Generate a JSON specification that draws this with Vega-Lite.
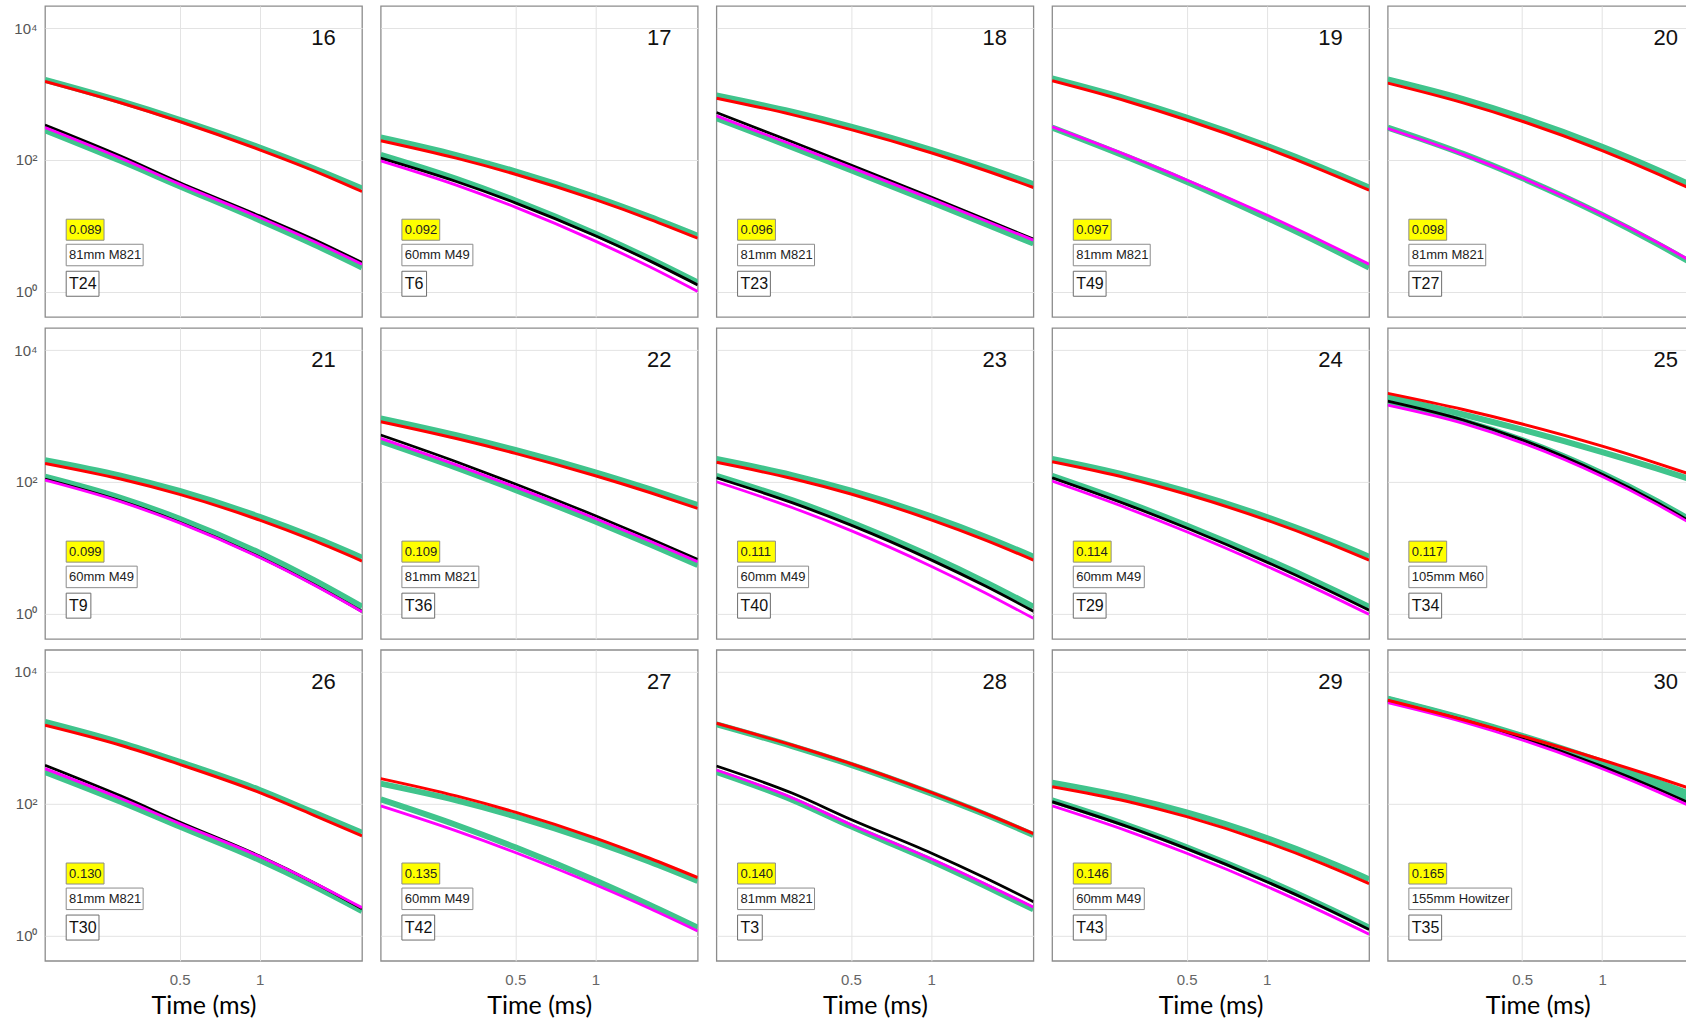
{
  "$schema": "https://vega.github.io/schema/vega-lite/v6.json",
  "background": "white",
  "padding": {"left": 13, "top": 5, "right": 0, "bottom": 0},
  "config": {
    "view": {"stroke": "#8c8c8c", "strokeWidth": 1.3},
    "font": "Liberation Sans",
    "header": {"labels": false, "title": null, "labelExpr": "''", "labelFontSize": 0, "labelPadding": 0, "titlePadding": 0},
    "headerFacet": {"labels": false, "title": null, "labelExpr": "''", "labelFontSize": 0, "labelPadding": 0, "titlePadding": 0}
  },
  "datasets": {
    "panels": [
      {"panel":16,"series":"label","value":"0.089","weapon":"81mm M821","test":"T24"},
      {"panel":17,"series":"label","value":"0.092","weapon":"60mm M49","test":"T6"},
      {"panel":18,"series":"label","value":"0.096","weapon":"81mm M821","test":"T23"},
      {"panel":19,"series":"label","value":"0.097","weapon":"81mm M821","test":"T49"},
      {"panel":20,"series":"label","value":"0.098","weapon":"81mm M821","test":"T27"},
      {"panel":21,"series":"label","value":"0.099","weapon":"60mm M49","test":"T9"},
      {"panel":22,"series":"label","value":"0.109","weapon":"81mm M821","test":"T36"},
      {"panel":23,"series":"label","value":"0.111","weapon":"60mm M49","test":"T40"},
      {"panel":24,"series":"label","value":"0.114","weapon":"60mm M49","test":"T29"},
      {"panel":25,"series":"label","value":"0.117","weapon":"105mm M60","test":"T34"},
      {"panel":26,"series":"label","value":"0.130","weapon":"81mm M821","test":"T30"},
      {"panel":27,"series":"label","value":"0.135","weapon":"60mm M49","test":"T42"},
      {"panel":28,"series":"label","value":"0.140","weapon":"81mm M821","test":"T3"},
      {"panel":29,"series":"label","value":"0.146","weapon":"60mm M49","test":"T43"},
      {"panel":30,"series":"label","value":"0.165","weapon":"155mm Howitzer","test":"T35"},

      {"panel":16,"series":"green_hi","t":0.156,"v":1641},{"panel":16,"series":"green_hi","t":0.3,"v":778},{"panel":16,"series":"green_hi","t":0.5,"v":406},{"panel":16,"series":"green_hi","t":1,"v":154},{"panel":16,"series":"green_hi","t":1.6,"v":73.8},{"panel":16,"series":"green_hi","t":2.424,"v":36.7},
      {"panel":16,"series":"red","t":0.156,"v":1549},{"panel":16,"series":"red","t":0.3,"v":735},{"panel":16,"series":"red","t":0.5,"v":382},{"panel":16,"series":"red","t":1,"v":142},{"panel":16,"series":"red","t":1.6,"v":68.1},{"panel":16,"series":"red","t":2.424,"v":33.0},
      {"panel":16,"series":"black","t":0.156,"v":337},{"panel":16,"series":"black","t":0.3,"v":114},{"panel":16,"series":"black","t":0.5,"v":45.3},{"panel":16,"series":"black","t":1,"v":14.1},{"panel":16,"series":"black","t":1.6,"v":6.17},{"panel":16,"series":"black","t":2.424,"v":2.75},
      {"panel":16,"series":"magenta","t":0.156,"v":309},{"panel":16,"series":"magenta","t":0.3,"v":106},{"panel":16,"series":"magenta","t":0.5,"v":42.7},{"panel":16,"series":"magenta","t":1,"v":13.3},{"panel":16,"series":"magenta","t":1.6,"v":5.75},{"panel":16,"series":"magenta","t":2.424,"v":2.60},
      {"panel":16,"series":"green_lo","t":0.156,"v":282},{"panel":16,"series":"green_lo","t":0.3,"v":96.6},{"panel":16,"series":"green_lo","t":0.5,"v":39.8},{"panel":16,"series":"green_lo","t":1,"v":12.1},{"panel":16,"series":"green_lo","t":1.6,"v":5.18},{"panel":16,"series":"green_lo","t":2.424,"v":2.32},

      {"panel":17,"series":"green_hi","t":0.156,"v":218},{"panel":17,"series":"green_hi","t":0.3,"v":118},{"panel":17,"series":"green_hi","t":0.5,"v":66.8},{"panel":17,"series":"green_hi","t":1,"v":27.2},{"panel":17,"series":"green_hi","t":1.6,"v":13.6},{"panel":17,"series":"green_hi","t":2.424,"v":7.01},
      {"panel":17,"series":"red","t":0.156,"v":195},{"panel":17,"series":"red","t":0.3,"v":106},{"panel":17,"series":"red","t":0.5,"v":60.4},{"panel":17,"series":"red","t":1,"v":24.8},{"panel":17,"series":"red","t":1.6,"v":12.5},{"panel":17,"series":"red","t":2.424,"v":6.46},
      {"panel":17,"series":"black","t":0.156,"v":106},{"panel":17,"series":"black","t":0.3,"v":46.8},{"panel":17,"series":"black","t":0.5,"v":22.2},{"panel":17,"series":"black","t":1,"v":7.01},{"panel":17,"series":"black","t":1.6,"v":2.92},{"panel":17,"series":"black","t":2.424,"v":1.26},
      {"panel":17,"series":"magenta","t":0.156,"v":96.6},{"panel":17,"series":"magenta","t":0.3,"v":41.3},{"panel":17,"series":"magenta","t":0.5,"v":19.1},{"panel":17,"series":"magenta","t":1,"v":5.82},{"panel":17,"series":"magenta","t":1.6,"v":2.37},{"panel":17,"series":"magenta","t":2.424,"v":1.00},
      {"panel":17,"series":"green_lo","t":0.156,"v":119},{"panel":17,"series":"green_lo","t":0.3,"v":51.4},{"panel":17,"series":"green_lo","t":0.5,"v":24.1},{"panel":17,"series":"green_lo","t":1,"v":7.55},{"panel":17,"series":"green_lo","t":1.6,"v":3.15},{"panel":17,"series":"green_lo","t":2.424,"v":1.37},

      {"panel":18,"series":"green_hi","t":0.156,"v":948},{"panel":18,"series":"green_hi","t":0.3,"v":537},{"panel":18,"series":"green_hi","t":0.5,"v":320},{"panel":18,"series":"green_hi","t":1,"v":142},{"panel":18,"series":"green_hi","t":1.6,"v":76.9},{"panel":18,"series":"green_hi","t":2.424,"v":42.7},
      {"panel":18,"series":"red","t":0.156,"v":865},{"panel":18,"series":"red","t":0.3,"v":486},{"panel":18,"series":"red","t":0.5,"v":288},{"panel":18,"series":"red","t":1,"v":128},{"panel":18,"series":"red","t":1.6,"v":68.9},{"panel":18,"series":"red","t":2.424,"v":38.0},
      {"panel":18,"series":"black","t":0.156,"v":524},{"panel":18,"series":"black","t":0.3,"v":188},{"panel":18,"series":"black","t":0.5,"v":83.4},{"panel":18,"series":"black","t":1,"v":27.1},{"panel":18,"series":"black","t":1.6,"v":12.5},{"panel":18,"series":"black","t":2.424,"v":6.24},
      {"panel":18,"series":"magenta","t":0.156,"v":466},{"panel":18,"series":"magenta","t":0.3,"v":171},{"panel":18,"series":"magenta","t":0.5,"v":76.9},{"panel":18,"series":"magenta","t":1,"v":25.5},{"panel":18,"series":"magenta","t":1.6,"v":11.9},{"panel":18,"series":"magenta","t":2.424,"v":6.03},
      {"panel":18,"series":"green_lo","t":0.156,"v":430},{"panel":18,"series":"green_lo","t":0.3,"v":156},{"panel":18,"series":"green_lo","t":0.5,"v":69.8},{"panel":18,"series":"green_lo","t":1,"v":23.0},{"panel":18,"series":"green_lo","t":1.6,"v":10.6},{"panel":18,"series":"green_lo","t":2.424,"v":5.36},

      {"panel":19,"series":"green_hi","t":0.156,"v":1718},{"panel":19,"series":"green_hi","t":0.3,"v":836},{"panel":19,"series":"green_hi","t":0.5,"v":439},{"panel":19,"series":"green_hi","t":1,"v":163},{"panel":19,"series":"green_hi","t":1.6,"v":77.3},{"panel":19,"series":"green_hi","t":2.424,"v":38.0},
      {"panel":19,"series":"red","t":0.156,"v":1585},{"panel":19,"series":"red","t":0.3,"v":769},{"panel":19,"series":"red","t":0.5,"v":402},{"panel":19,"series":"red","t":1,"v":149},{"panel":19,"series":"red","t":1.6,"v":70.5},{"panel":19,"series":"red","t":2.424,"v":34.6},
      {"panel":19,"series":"magenta","t":0.156,"v":317},{"panel":19,"series":"magenta","t":0.3,"v":116},{"panel":19,"series":"magenta","t":0.5,"v":49.5},{"panel":19,"series":"magenta","t":1,"v":14.5},{"panel":19,"series":"magenta","t":1.6,"v":5.92},{"panel":19,"series":"magenta","t":2.424,"v":2.60},
      {"panel":19,"series":"green_lo","t":0.156,"v":310},{"panel":19,"series":"green_lo","t":0.3,"v":110},{"panel":19,"series":"green_lo","t":0.5,"v":46.6},{"panel":19,"series":"green_lo","t":1,"v":13.2},{"panel":19,"series":"green_lo","t":1.6,"v":5.35},{"panel":19,"series":"green_lo","t":2.424,"v":2.32},

      {"panel":20,"series":"green_hi","t":0.156,"v":1660},{"panel":20,"series":"green_hi","t":0.3,"v":836},{"panel":20,"series":"green_hi","t":0.5,"v":439},{"panel":20,"series":"green_hi","t":1,"v":158},{"panel":20,"series":"green_hi","t":1.6,"v":71.4},{"panel":20,"series":"green_hi","t":2.098,"v":43.7},
      {"panel":20,"series":"red","t":0.156,"v":1462},{"panel":20,"series":"red","t":0.3,"v":733},{"panel":20,"series":"red","t":0.5,"v":385},{"panel":20,"series":"red","t":1,"v":138},{"panel":20,"series":"red","t":1.6,"v":62.4},{"panel":20,"series":"red","t":2.098,"v":38.0},
      {"panel":20,"series":"magenta","t":0.156,"v":299},{"panel":20,"series":"magenta","t":0.3,"v":121},{"panel":20,"series":"magenta","t":0.5,"v":53.2},{"panel":20,"series":"magenta","t":1,"v":14.9},{"panel":20,"series":"magenta","t":1.6,"v":5.64},{"panel":20,"series":"magenta","t":2.098,"v":3.09},
      {"panel":20,"series":"green_lo","t":0.156,"v":310},{"panel":20,"series":"green_lo","t":0.3,"v":123},{"panel":20,"series":"green_lo","t":0.5,"v":52.8},{"panel":20,"series":"green_lo","t":1,"v":14.5},{"panel":20,"series":"green_lo","t":1.6,"v":5.38},{"panel":20,"series":"green_lo","t":2.098,"v":2.92},

      {"panel":21,"series":"green_hi","t":0.156,"v":213},{"panel":21,"series":"green_hi","t":0.3,"v":124},{"panel":21,"series":"green_hi","t":0.5,"v":72.3},{"panel":21,"series":"green_hi","t":1,"v":29.3},{"panel":21,"series":"green_hi","t":1.6,"v":14.3},{"panel":21,"series":"green_hi","t":2.424,"v":7.01},
      {"panel":21,"series":"red","t":0.156,"v":190},{"panel":21,"series":"red","t":0.3,"v":110},{"panel":21,"series":"red","t":0.5,"v":64.3},{"panel":21,"series":"red","t":1,"v":26.1},{"panel":21,"series":"red","t":1.6,"v":12.7},{"panel":21,"series":"red","t":2.424,"v":6.24},
      {"panel":21,"series":"black","t":0.156,"v":110},{"panel":21,"series":"black","t":0.3,"v":51.3},{"panel":21,"series":"black","t":0.5,"v":24.3},{"panel":21,"series":"black","t":1,"v":7.19},{"panel":21,"series":"black","t":1.6,"v":2.75},{"panel":21,"series":"black","t":2.424,"v":1.07},
      {"panel":21,"series":"magenta","t":0.156,"v":106},{"panel":21,"series":"magenta","t":0.3,"v":49.8},{"panel":21,"series":"magenta","t":0.5,"v":23.7},{"panel":21,"series":"magenta","t":1,"v":7.06},{"panel":21,"series":"magenta","t":1.6,"v":2.70},{"panel":21,"series":"magenta","t":2.424,"v":1.06},
      {"panel":21,"series":"green_lo","t":0.156,"v":119},{"panel":21,"series":"green_lo","t":0.3,"v":56.8},{"panel":21,"series":"green_lo","t":0.5,"v":27.4},{"panel":21,"series":"green_lo","t":1,"v":8.26},{"panel":21,"series":"green_lo","t":1.6,"v":3.19},{"panel":21,"series":"green_lo","t":2.424,"v":1.26},

      {"panel":22,"series":"green_hi","t":0.156,"v":916},{"panel":22,"series":"green_hi","t":0.3,"v":509},{"panel":22,"series":"green_hi","t":0.5,"v":304},{"panel":22,"series":"green_hi","t":1,"v":139},{"panel":22,"series":"green_hi","t":1.6,"v":77.1},{"panel":22,"series":"green_hi","t":2.424,"v":44.3},
      {"panel":22,"series":"red","t":0.156,"v":815},{"panel":22,"series":"red","t":0.3,"v":453},{"panel":22,"series":"red","t":0.5,"v":270},{"panel":22,"series":"red","t":1,"v":123},{"panel":22,"series":"red","t":1.6,"v":68.5},{"panel":22,"series":"red","t":2.424,"v":39.4},
      {"panel":22,"series":"black","t":0.156,"v":512},{"panel":22,"series":"black","t":0.3,"v":201},{"panel":22,"series":"black","t":0.5,"v":92.5},{"panel":22,"series":"black","t":1,"v":30.4},{"panel":22,"series":"black","t":1.6,"v":13.7},{"panel":22,"series":"black","t":2.424,"v":6.61},
      {"panel":22,"series":"magenta","t":0.156,"v":455},{"panel":22,"series":"magenta","t":0.3,"v":180},{"panel":22,"series":"magenta","t":0.5,"v":83.6},{"panel":22,"series":"magenta","t":1,"v":27.7},{"panel":22,"series":"magenta","t":1.6,"v":12.6},{"panel":22,"series":"magenta","t":2.424,"v":6.10},
      {"panel":22,"series":"green_lo","t":0.156,"v":415},{"panel":22,"series":"green_lo","t":0.3,"v":164},{"panel":22,"series":"green_lo","t":0.5,"v":75.3},{"panel":22,"series":"green_lo","t":1,"v":24.8},{"panel":22,"series":"green_lo","t":1.6,"v":11.2},{"panel":22,"series":"green_lo","t":2.424,"v":5.42},

      {"panel":23,"series":"green_hi","t":0.156,"v":221},{"panel":23,"series":"green_hi","t":0.3,"v":126},{"panel":23,"series":"green_hi","t":0.5,"v":73.1},{"panel":23,"series":"green_hi","t":1,"v":29.7},{"panel":23,"series":"green_hi","t":1.6,"v":14.6},{"panel":23,"series":"green_hi","t":2.424,"v":7.26},
      {"panel":23,"series":"red","t":0.156,"v":197},{"panel":23,"series":"red","t":0.3,"v":112},{"panel":23,"series":"red","t":0.5,"v":65.0},{"panel":23,"series":"red","t":1,"v":26.4},{"panel":23,"series":"red","t":1.6,"v":13.0},{"panel":23,"series":"red","t":2.424,"v":6.46},
      {"panel":23,"series":"black","t":0.156,"v":115},{"panel":23,"series":"black","t":0.3,"v":48.1},{"panel":23,"series":"black","t":0.5,"v":21.9},{"panel":23,"series":"black","t":1,"v":6.50},{"panel":23,"series":"black","t":1.6,"v":2.60},{"panel":23,"series":"black","t":2.424,"v":1.08},
      {"panel":23,"series":"magenta","t":0.156,"v":100},{"panel":23,"series":"magenta","t":0.3,"v":40.6},{"panel":23,"series":"magenta","t":0.5,"v":18.1},{"panel":23,"series":"magenta","t":1,"v":5.22},{"panel":23,"series":"magenta","t":1.6,"v":2.05},{"panel":23,"series":"magenta","t":2.424,"v":0.84},
      {"panel":23,"series":"green_lo","t":0.156,"v":123},{"panel":23,"series":"green_lo","t":0.3,"v":52.5},{"panel":23,"series":"green_lo","t":0.5,"v":24.3},{"panel":23,"series":"green_lo","t":1,"v":7.38},{"panel":23,"series":"green_lo","t":1.6,"v":2.99},{"panel":23,"series":"green_lo","t":2.424,"v":1.26},

      {"panel":24,"series":"green_hi","t":0.156,"v":221},{"panel":24,"series":"green_hi","t":0.3,"v":124},{"panel":24,"series":"green_hi","t":0.5,"v":71.4},{"panel":24,"series":"green_hi","t":1,"v":29.1},{"panel":24,"series":"green_hi","t":1.6,"v":14.4},{"panel":24,"series":"green_hi","t":2.424,"v":7.26},
      {"panel":24,"series":"red","t":0.156,"v":201},{"panel":24,"series":"red","t":0.3,"v":113},{"panel":24,"series":"red","t":0.5,"v":64.4},{"panel":24,"series":"red","t":1,"v":26.1},{"panel":24,"series":"red","t":1.6,"v":12.9},{"panel":24,"series":"red","t":2.424,"v":6.46},
      {"panel":24,"series":"black","t":0.156,"v":115},{"panel":24,"series":"black","t":0.3,"v":44.6},{"panel":24,"series":"black","t":0.5,"v":19.8},{"panel":24,"series":"black","t":1,"v":6.01},{"panel":24,"series":"black","t":1.6,"v":2.52},{"panel":24,"series":"black","t":2.424,"v":1.12},
      {"panel":24,"series":"magenta","t":0.156,"v":102},{"panel":24,"series":"magenta","t":0.3,"v":39.3},{"panel":24,"series":"magenta","t":0.5,"v":17.4},{"panel":24,"series":"magenta","t":1,"v":5.22},{"panel":24,"series":"magenta","t":1.6,"v":2.18},{"panel":24,"series":"magenta","t":2.424,"v":0.966},
      {"panel":24,"series":"green_lo","t":0.156,"v":123},{"panel":24,"series":"green_lo","t":0.3,"v":48.2},{"panel":24,"series":"green_lo","t":0.5,"v":21.6},{"panel":24,"series":"green_lo","t":1,"v":6.65},{"panel":24,"series":"green_lo","t":1.6,"v":2.81},{"panel":24,"series":"green_lo","t":2.424,"v":1.26},

      {"panel":25,"series":"green_hi","t":0.156,"v":1954},{"panel":25,"series":"green_hi","t":0.3,"v":1050},{"panel":25,"series":"green_hi","t":0.5,"v":617},{"panel":25,"series":"green_hi","t":1,"v":282},{"panel":25,"series":"green_hi","t":1.6,"v":159},{"panel":25,"series":"green_hi","t":2.098,"v":112},
      {"panel":25,"series":"red","t":0.156,"v":2198},{"panel":25,"series":"red","t":0.3,"v":1250},{"panel":25,"series":"red","t":0.5,"v":753},{"panel":25,"series":"red","t":1,"v":347},{"panel":25,"series":"red","t":1.6,"v":192},{"panel":25,"series":"red","t":2.098,"v":134},
      {"panel":25,"series":"black","t":0.156,"v":1679},{"panel":25,"series":"black","t":0.3,"v":867},{"panel":25,"series":"black","t":0.5,"v":432},{"panel":25,"series":"black","t":1,"v":130},{"panel":25,"series":"black","t":1.6,"v":49.0},{"panel":25,"series":"black","t":2.098,"v":26.2},
      {"panel":25,"series":"magenta","t":0.156,"v":1462},{"panel":25,"series":"magenta","t":0.3,"v":771},{"panel":25,"series":"magenta","t":0.5,"v":389},{"panel":25,"series":"magenta","t":1,"v":120},{"panel":25,"series":"magenta","t":1.6,"v":45.7},{"panel":25,"series":"magenta","t":2.098,"v":24.7},
      {"panel":25,"series":"green_lo","t":0.156,"v":1585},{"panel":25,"series":"green_lo","t":0.3,"v":843},{"panel":25,"series":"green_lo","t":0.5,"v":430},{"panel":25,"series":"green_lo","t":1,"v":134},{"panel":25,"series":"green_lo","t":1.6,"v":51.3},{"panel":25,"series":"green_lo","t":2.098,"v":27.7},

      {"panel":26,"series":"green_hi","t":0.156,"v":1742},{"panel":26,"series":"green_hi","t":0.3,"v":845},{"panel":26,"series":"green_hi","t":0.5,"v":430},{"panel":26,"series":"green_hi","t":1,"v":161},{"panel":26,"series":"green_hi","t":1.6,"v":73.0},{"panel":26,"series":"green_hi","t":2.424,"v":36.2},
      {"panel":26,"series":"red","t":0.156,"v":1549},{"panel":26,"series":"red","t":0.3,"v":769},{"panel":26,"series":"red","t":0.5,"v":395},{"panel":26,"series":"red","t":1,"v":147},{"panel":26,"series":"red","t":1.6,"v":66.5},{"panel":26,"series":"red","t":2.424,"v":32.3},
      {"panel":26,"series":"black","t":0.156,"v":382},{"panel":26,"series":"black","t":0.3,"v":131},{"panel":26,"series":"black","t":0.5,"v":52.7},{"panel":26,"series":"black","t":1,"v":16.0},{"panel":26,"series":"black","t":1.6,"v":6.31},{"panel":26,"series":"black","t":2.424,"v":2.54},
      {"panel":26,"series":"magenta","t":0.156,"v":340},{"panel":26,"series":"magenta","t":0.3,"v":120},{"panel":26,"series":"magenta","t":0.5,"v":49.7},{"panel":26,"series":"magenta","t":1,"v":15.7},{"panel":26,"series":"magenta","t":1.6,"v":6.31},{"panel":26,"series":"magenta","t":2.424,"v":2.63},
      {"panel":26,"series":"green_lo","t":0.156,"v":303},{"panel":26,"series":"green_lo","t":0.3,"v":107},{"panel":26,"series":"green_lo","t":0.5,"v":44.8},{"panel":26,"series":"green_lo","t":1,"v":13.9},{"panel":26,"series":"green_lo","t":1.6,"v":5.61},{"panel":26,"series":"green_lo","t":2.424,"v":2.34},

      {"panel":27,"series":"green_hi","t":0.156,"v":201},{"panel":27,"series":"green_hi","t":0.3,"v":112},{"panel":27,"series":"green_hi","t":0.5,"v":64.0},{"panel":27,"series":"green_hi","t":1,"v":26.2},{"panel":27,"series":"green_hi","t":1.6,"v":13.1},{"panel":27,"series":"green_hi","t":2.424,"v":6.68},
      {"panel":27,"series":"red","t":0.156,"v":240},{"panel":27,"series":"red","t":0.3,"v":131},{"panel":27,"series":"red","t":0.5,"v":74.3},{"panel":27,"series":"red","t":1,"v":30.0},{"panel":27,"series":"red","t":1.6,"v":14.8},{"panel":27,"series":"red","t":2.424,"v":7.52},
      {"panel":27,"series":"magenta","t":0.156,"v":92.3},{"panel":27,"series":"magenta","t":0.3,"v":38.5},{"panel":27,"series":"magenta","t":0.5,"v":18.1},{"panel":27,"series":"magenta","t":1,"v":5.85},{"panel":27,"series":"magenta","t":1.6,"v":2.55},{"panel":27,"series":"magenta","t":2.424,"v":1.16},
      {"panel":27,"series":"green_lo","t":0.156,"v":116},{"panel":27,"series":"green_lo","t":0.3,"v":47.3},{"panel":27,"series":"green_lo","t":0.5,"v":21.7},{"panel":27,"series":"green_lo","t":1,"v":6.82},{"panel":27,"series":"green_lo","t":1.6,"v":2.90},{"panel":27,"series":"green_lo","t":2.424,"v":1.31},

      {"panel":28,"series":"green_hi","t":0.156,"v":1603},{"panel":28,"series":"green_hi","t":0.3,"v":750},{"panel":28,"series":"green_hi","t":0.5,"v":389},{"panel":28,"series":"green_hi","t":1,"v":143},{"panel":28,"series":"green_hi","t":1.6,"v":68.4},{"panel":28,"series":"green_hi","t":2.424,"v":33.4},
      {"panel":28,"series":"red","t":0.156,"v":1660},{"panel":28,"series":"red","t":0.3,"v":776},{"panel":28,"series":"red","t":0.5,"v":403},{"panel":28,"series":"red","t":1,"v":148},{"panel":28,"series":"red","t":1.6,"v":70.8},{"panel":28,"series":"red","t":2.424,"v":35.0},
      {"panel":28,"series":"black","t":0.156,"v":373},{"panel":28,"series":"black","t":0.3,"v":145},{"panel":28,"series":"black","t":0.5,"v":57.5},{"panel":28,"series":"black","t":1,"v":17.8},{"panel":28,"series":"black","t":1.6,"v":7.41},{"panel":28,"series":"black","t":2.424,"v":3.24},
      {"panel":28,"series":"magenta","t":0.156,"v":324},{"panel":28,"series":"magenta","t":0.3,"v":123},{"panel":28,"series":"magenta","t":0.5,"v":47.9},{"panel":28,"series":"magenta","t":1,"v":14.5},{"panel":28,"series":"magenta","t":1.6,"v":6.03},{"panel":28,"series":"magenta","t":2.424,"v":2.69},
      {"panel":28,"series":"green_lo","t":0.156,"v":303},{"panel":28,"series":"green_lo","t":0.3,"v":115},{"panel":28,"series":"green_lo","t":0.5,"v":45.2},{"panel":28,"series":"green_lo","t":1,"v":13.6},{"panel":28,"series":"green_lo","t":1.6,"v":5.62},{"panel":28,"series":"green_lo","t":2.424,"v":2.48},

      {"panel":29,"series":"green_hi","t":0.156,"v":208},{"panel":29,"series":"green_hi","t":0.3,"v":124},{"panel":29,"series":"green_hi","t":0.5,"v":73.3},{"panel":29,"series":"green_hi","t":1,"v":29.9},{"panel":29,"series":"green_hi","t":1.6,"v":14.5},{"panel":29,"series":"green_hi","t":2.424,"v":7.10},
      {"panel":29,"series":"red","t":0.156,"v":181},{"panel":29,"series":"red","t":0.3,"v":108},{"panel":29,"series":"red","t":0.5,"v":63.4},{"panel":29,"series":"red","t":1,"v":25.8},{"panel":29,"series":"red","t":1.6,"v":12.5},{"panel":29,"series":"red","t":2.424,"v":6.10},
      {"panel":29,"series":"black","t":0.156,"v":107},{"panel":29,"series":"black","t":0.3,"v":44.7},{"panel":29,"series":"black","t":0.5,"v":20.7},{"panel":29,"series":"black","t":1,"v":6.52},{"panel":29,"series":"black","t":1.6,"v":2.77},{"panel":29,"series":"black","t":2.424,"v":1.23},
      {"panel":29,"series":"magenta","t":0.156,"v":92.3},{"panel":29,"series":"magenta","t":0.3,"v":38.2},{"panel":29,"series":"magenta","t":0.5,"v":17.6},{"panel":29,"series":"magenta","t":1,"v":5.52},{"panel":29,"series":"magenta","t":1.6,"v":2.33},{"panel":29,"series":"magenta","t":2.424,"v":1.04},
      {"panel":29,"series":"green_lo","t":0.156,"v":112},{"panel":29,"series":"green_lo","t":0.3,"v":47.0},{"panel":29,"series":"green_lo","t":0.5,"v":21.8},{"panel":29,"series":"green_lo","t":1,"v":6.89},{"panel":29,"series":"green_lo","t":1.6,"v":2.92},{"panel":29,"series":"green_lo","t":2.424,"v":1.31},

      {"panel":30,"series":"green_hi","t":0.156,"v":3936},{"panel":30,"series":"green_hi","t":0.3,"v":1968},{"panel":30,"series":"green_hi","t":0.5,"v":1072},{"panel":30,"series":"green_hi","t":1,"v":430},{"panel":30,"series":"green_hi","t":1.6,"v":217},{"panel":30,"series":"green_hi","t":2.098,"v":144},
      {"panel":30,"series":"red","t":0.156,"v":3715},{"panel":30,"series":"red","t":0.3,"v":1879},{"panel":30,"series":"red","t":0.5,"v":1059},{"panel":30,"series":"red","t":1,"v":459},{"panel":30,"series":"red","t":1.6,"v":252},{"panel":30,"series":"red","t":2.098,"v":175},
      {"panel":30,"series":"black","t":0.156,"v":3622},{"panel":30,"series":"black","t":0.3,"v":1866},{"panel":30,"series":"black","t":0.5,"v":998},{"panel":30,"series":"black","t":1,"v":368},{"panel":30,"series":"black","t":1.6,"v":170},{"panel":30,"series":"black","t":2.098,"v":105},
      {"panel":30,"series":"magenta","t":0.156,"v":3420},{"panel":30,"series":"magenta","t":0.3,"v":1746},{"panel":30,"series":"magenta","t":0.5,"v":927},{"panel":30,"series":"magenta","t":1,"v":339},{"panel":30,"series":"magenta","t":1.6,"v":155},{"panel":30,"series":"magenta","t":2.098,"v":95.5},
      {"panel":30,"series":"green_lo","t":0.156,"v":3846},{"panel":30,"series":"green_lo","t":0.3,"v":1905},{"panel":30,"series":"green_lo","t":0.5,"v":1014},{"panel":30,"series":"green_lo","t":1,"v":385},{"panel":30,"series":"green_lo","t":1.6,"v":185},{"panel":30,"series":"green_lo","t":2.098,"v":117}
    ]
  },
  "data": {"name": "panels"},
  "hconcat": [
    {
      "transform": [{"filter": "datum.panel != 20 && datum.panel != 25 && datum.panel != 30"}],
      "facet": {"field": "panel", "type": "ordinal", "header": {"labels": false, "title": null, "labelExpr": "''", "labelFontSize": 0, "labelPadding": 0, "titlePadding": 0}},
      "columns": 4,
      "spacing": {"row": 8.9, "column": 16.7},
      "spec": {
        "width": 317,
        "height": 311,
        "layer": [
          {
            "transform": [{"filter": "datum.series == 'green_hi' || datum.series == 'green_lo'"}],
            "mark": {"type": "line", "color": "#40C48C", "strokeWidth": 6, "interpolate": "monotone", "clip": true},
            "encoding": {
              "x": {"field": "t", "type": "quantitative",
                "scale": {"type": "log", "domain": [0.156, 2.424], "nice": false},
                "axis": {"values": [0.5, 1], "format": "~g", "grid": true, "gridColor": "#e3e3e3", "ticks": false, "domain": false,
                  "labelFont": "Liberation Sans", "labelFontSize": 15, "labelColor": "#666666", "labelPadding": 10,
                  "title": "Time (ms)", "titleFont": "Lato", "titleFontSize": 25, "titleFontWeight": "normal", "titleColor": "#000000", "titlePadding": 6}},
              "y": {"field": "v", "type": "quantitative",
                "scale": {"type": "log", "domain": [0.41, 21700], "nice": false},
                "axis": {"values": [1, 100, 10000], "labelExpr": "datum.value == 1 ? '10⁰' : (datum.value == 100 ? '10²' : '10⁴')",
                  "grid": true, "gridColor": "#e3e3e3", "ticks": false, "domain": false,
                  "labelFont": "Liberation Sans", "labelFontSize": 15, "labelColor": "#555555", "labelPadding": 7, "title": null}},
              "detail": {"field": "series"}
            }
          },
          {
            "transform": [{"filter": "datum.series == 'black'"}],
            "mark": {"type": "line", "color": "#000000", "strokeWidth": 2.8, "interpolate": "monotone", "clip": true},
            "encoding": {"x": {"field": "t", "type": "quantitative"}, "y": {"field": "v", "type": "quantitative"}}
          },
          {
            "transform": [{"filter": "datum.series == 'magenta'"}],
            "mark": {"type": "line", "color": "#FF00FF", "strokeWidth": 2.8, "interpolate": "monotone", "clip": true},
            "encoding": {"x": {"field": "t", "type": "quantitative"}, "y": {"field": "v", "type": "quantitative"}}
          },
          {
            "transform": [{"filter": "datum.series == 'red'"}],
            "mark": {"type": "line", "color": "#FF0000", "strokeWidth": 3, "interpolate": "monotone", "clip": true},
            "encoding": {"x": {"field": "t", "type": "quantitative"}, "y": {"field": "v", "type": "quantitative"}}
          },
          {
            "transform": [{"filter": "datum.series == 'label'"}],
            "mark": {"type": "rect", "fill": "#FFFF00", "stroke": "#8c8c8c", "strokeWidth": 1},
            "encoding": {"x": {"datum": 0.1874, "type": "quantitative"}, "x2": {"datum": 0.26}, "y": {"datum": 12.53, "type": "quantitative"}, "y2": {"datum": 6.01}}
          },
          {
            "transform": [{"filter": "datum.series == 'label' && datum.weapon == '81mm M821'"}],
            "mark": {"type": "rect", "fill": "#FFFFFF", "stroke": "#8c8c8c", "strokeWidth": 1},
            "encoding": {"x": {"datum": 0.1874, "type": "quantitative"}, "x2": {"datum": 0.3647}, "y": {"datum": 5.22, "type": "quantitative"}, "y2": {"datum": 2.46}}
          },
          {
            "transform": [{"filter": "datum.series == 'label' && datum.weapon == '60mm M49'"}],
            "mark": {"type": "rect", "fill": "#FFFFFF", "stroke": "#8c8c8c", "strokeWidth": 1},
            "encoding": {"x": {"datum": 0.1874, "type": "quantitative"}, "x2": {"datum": 0.3464}, "y": {"datum": 5.22, "type": "quantitative"}, "y2": {"datum": 2.46}}
          },
          {
            "transform": [{"filter": "datum.series == 'label' && length(datum.test) == 3"}],
            "mark": {"type": "rect", "fill": "#FFFFFF", "stroke": "#6e6e6e", "strokeWidth": 1},
            "encoding": {"x": {"datum": 0.1874, "type": "quantitative"}, "x2": {"datum": 0.2489}, "y": {"datum": 2.03, "type": "quantitative"}, "y2": {"datum": 0.847}}
          },
          {
            "transform": [{"filter": "datum.series == 'label' && length(datum.test) == 2"}],
            "mark": {"type": "rect", "fill": "#FFFFFF", "stroke": "#6e6e6e", "strokeWidth": 1},
            "encoding": {"x": {"datum": 0.1874, "type": "quantitative"}, "x2": {"datum": 0.232}, "y": {"datum": 2.03, "type": "quantitative"}, "y2": {"datum": 0.847}}
          },
          {
            "transform": [{"filter": "datum.series == 'label'"}],
            "mark": {"type": "text", "align": "left", "baseline": "middle", "fontSize": 13, "color": "#222222"},
            "encoding": {"x": {"datum": 0.1921, "type": "quantitative"}, "y": {"datum": 8.68, "type": "quantitative"}, "text": {"field": "value"}}
          },
          {
            "transform": [{"filter": "datum.series == 'label'"}],
            "mark": {"type": "text", "align": "left", "baseline": "middle", "fontSize": 13, "color": "#222222"},
            "encoding": {"x": {"datum": 0.1921, "type": "quantitative"}, "y": {"datum": 3.59, "type": "quantitative"}, "text": {"field": "weapon"}}
          },
          {
            "transform": [{"filter": "datum.series == 'label'"}],
            "mark": {"type": "text", "align": "left", "baseline": "middle", "fontSize": 16, "color": "#111111"},
            "encoding": {"x": {"datum": 0.1921, "type": "quantitative"}, "y": {"datum": 1.311, "type": "quantitative"}, "text": {"field": "test"}}
          },
          {
            "transform": [{"filter": "datum.series == 'label'"}],
            "mark": {"type": "text", "align": "center", "baseline": "middle", "fontSize": 22, "color": "#111111"},
            "encoding": {"x": {"datum": 1.736, "type": "quantitative"}, "y": {"datum": 7060, "type": "quantitative"}, "text": {"field": "panel"}}
          }
        ]
      }
    },
    {
      "transform": [{"filter": "datum.panel == 20 || datum.panel == 25 || datum.panel == 30"}],
      "facet": {"field": "panel", "type": "ordinal", "header": {"labels": false, "title": null, "labelExpr": "''", "labelFontSize": 0, "labelPadding": 0, "titlePadding": 0}},
      "columns": 1,
      "spacing": {"row": 8.9, "column": 16.7},
      "spec": {
        "width": 300,
        "height": 311,
        "layer": [
          {
            "transform": [{"filter": "datum.series == 'green_hi' || datum.series == 'green_lo'"}],
            "mark": {"type": "line", "color": "#40C48C", "strokeWidth": 6, "interpolate": "monotone", "clip": true},
            "encoding": {
              "x": {"field": "t", "type": "quantitative",
                "scale": {"type": "log", "domain": [0.156, 2.098], "nice": false},
                "axis": {"values": [0.5, 1], "format": "~g", "grid": true, "gridColor": "#e3e3e3", "ticks": false, "domain": false,
                  "labelFont": "Liberation Sans", "labelFontSize": 15, "labelColor": "#666666", "labelPadding": 10,
                  "title": "Time (ms)", "titleFont": "Lato", "titleFontSize": 25, "titleFontWeight": "normal", "titleColor": "#000000", "titlePadding": 6}},
              "y": {"field": "v", "type": "quantitative",
                "scale": {"type": "log", "domain": [0.41, 21700], "nice": false},
                "axis": {"values": [1, 100, 10000], "labels": false, "grid": true, "gridColor": "#e3e3e3", "ticks": false, "domain": false, "title": null}},
              "detail": {"field": "series"}
            }
          },
          {
            "transform": [{"filter": "datum.series == 'black'"}],
            "mark": {"type": "line", "color": "#000000", "strokeWidth": 2.8, "interpolate": "monotone", "clip": true},
            "encoding": {"x": {"field": "t", "type": "quantitative"}, "y": {"field": "v", "type": "quantitative"}}
          },
          {
            "transform": [{"filter": "datum.series == 'magenta'"}],
            "mark": {"type": "line", "color": "#FF00FF", "strokeWidth": 2.8, "interpolate": "monotone", "clip": true},
            "encoding": {"x": {"field": "t", "type": "quantitative"}, "y": {"field": "v", "type": "quantitative"}}
          },
          {
            "transform": [{"filter": "datum.series == 'red'"}],
            "mark": {"type": "line", "color": "#FF0000", "strokeWidth": 3, "interpolate": "monotone", "clip": true},
            "encoding": {"x": {"field": "t", "type": "quantitative"}, "y": {"field": "v", "type": "quantitative"}}
          },
          {
            "transform": [{"filter": "datum.series == 'label'"}],
            "mark": {"type": "rect", "fill": "#FFFF00", "stroke": "#8c8c8c", "strokeWidth": 1},
            "encoding": {"x": {"datum": 0.1874, "type": "quantitative"}, "x2": {"datum": 0.26}, "y": {"datum": 12.53, "type": "quantitative"}, "y2": {"datum": 6.01}}
          },
          {
            "transform": [{"filter": "datum.series == 'label' && datum.weapon == '81mm M821'"}],
            "mark": {"type": "rect", "fill": "#FFFFFF", "stroke": "#8c8c8c", "strokeWidth": 1},
            "encoding": {"x": {"datum": 0.1874, "type": "quantitative"}, "x2": {"datum": 0.3647}, "y": {"datum": 5.22, "type": "quantitative"}, "y2": {"datum": 2.46}}
          },
          {
            "transform": [{"filter": "datum.series == 'label' && datum.weapon == '105mm M60'"}],
            "mark": {"type": "rect", "fill": "#FFFFFF", "stroke": "#8c8c8c", "strokeWidth": 1},
            "encoding": {"x": {"datum": 0.1874, "type": "quantitative"}, "x2": {"datum": 0.3679}, "y": {"datum": 5.22, "type": "quantitative"}, "y2": {"datum": 2.46}}
          },
          {
            "transform": [{"filter": "datum.series == 'label' && datum.weapon == '155mm Howitzer'"}],
            "mark": {"type": "rect", "fill": "#FFFFFF", "stroke": "#8c8c8c", "strokeWidth": 1},
            "encoding": {"x": {"datum": 0.1874, "type": "quantitative"}, "x2": {"datum": 0.4566}, "y": {"datum": 5.22, "type": "quantitative"}, "y2": {"datum": 2.46}}
          },
          {
            "transform": [{"filter": "datum.series == 'label'"}],
            "mark": {"type": "rect", "fill": "#FFFFFF", "stroke": "#6e6e6e", "strokeWidth": 1},
            "encoding": {"x": {"datum": 0.1874, "type": "quantitative"}, "x2": {"datum": 0.2489}, "y": {"datum": 2.03, "type": "quantitative"}, "y2": {"datum": 0.847}}
          },
          {
            "transform": [{"filter": "datum.series == 'label'"}],
            "mark": {"type": "text", "align": "left", "baseline": "middle", "fontSize": 13, "color": "#222222"},
            "encoding": {"x": {"datum": 0.1921, "type": "quantitative"}, "y": {"datum": 8.68, "type": "quantitative"}, "text": {"field": "value"}}
          },
          {
            "transform": [{"filter": "datum.series == 'label'"}],
            "mark": {"type": "text", "align": "left", "baseline": "middle", "fontSize": 13, "color": "#222222"},
            "encoding": {"x": {"datum": 0.1921, "type": "quantitative"}, "y": {"datum": 3.59, "type": "quantitative"}, "text": {"field": "weapon"}}
          },
          {
            "transform": [{"filter": "datum.series == 'label'"}],
            "mark": {"type": "text", "align": "left", "baseline": "middle", "fontSize": 16, "color": "#111111"},
            "encoding": {"x": {"datum": 0.1921, "type": "quantitative"}, "y": {"datum": 1.311, "type": "quantitative"}, "text": {"field": "test"}}
          },
          {
            "transform": [{"filter": "datum.series == 'label'"}],
            "mark": {"type": "text", "align": "center", "baseline": "middle", "fontSize": 22, "color": "#111111"},
            "encoding": {"x": {"datum": 1.736, "type": "quantitative"}, "y": {"datum": 7060, "type": "quantitative"}, "text": {"field": "panel"}}
          }
        ]
      }
    }
  ],
  "spacing": 16.7,
  "resolve": {"scale": {"x": "independent", "y": "independent"}}
}
